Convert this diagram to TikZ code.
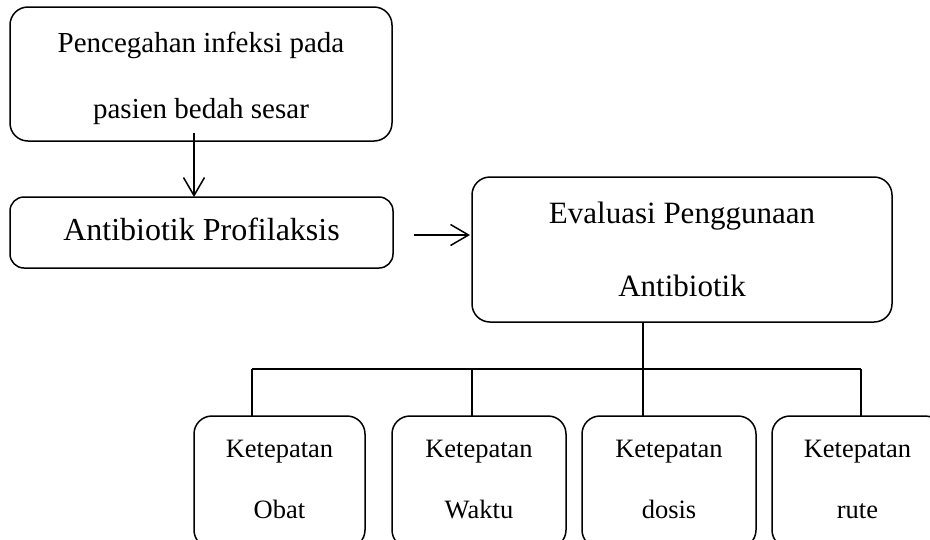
\documentclass[tikz,border=0pt]{standalone}
\usepackage{fontspec}
\setmainfont{Liberation Serif}
\usetikzlibrary{arrows.meta}
\begin{document}
\begin{tikzpicture}[x=1pt,y=-1pt,
  box/.style={draw, line width=1.5pt, rounded corners=18pt, align=center, inner sep=0pt, outer sep=0pt},
  smallbox/.style={box, minimum height=132pt, font=\fontsize{26.5}{61}\selectfont},
  link/.style={line width=1.5pt},
  arr/.style={line width=1.5pt, -{Straight Barb[length=18pt,width=21pt]}}]
\useasboundingbox (0,0) rectangle (930,539);
\clip (0,0) rectangle (930,539);
\node[box, minimum width=382pt, minimum height=134pt, font=\fontsize{29}{66}\selectfont] (a) at (201,74)
  {\rule{0pt}{30pt}Pencegahan infeksi pada\\pasien bedah sesar};
\node[box, rounded corners=14pt, minimum width=383pt, minimum height=71pt, font=\fontsize{32}{38}\selectfont] (b) at (201.5,232.5)
  {Antibiotik Profilaksis\rule[-7pt]{0pt}{7pt}};
\node[box, minimum width=420pt, minimum height=145pt, font=\fontsize{31}{73}\selectfont] (c) at (682,249.5)
  {Evaluasi Penggunaan\\Antibiotik};
\node[smallbox, minimum width=171pt] (s1) at (279.5,482) {Ketepatan\\Obat\vphantom{p}};
\node[smallbox, minimum width=174pt] (s2) at (479,482) {Ketepatan\\Waktu\vphantom{p}};
\node[smallbox, minimum width=174pt] (s3) at (669,482) {Ketepatan\\dosis\vphantom{p}};
\node[smallbox, minimum width=171pt] (s4) at (857.5,482) {Ketepatan\\rute\vphantom{p}};
\draw[arr] ([xshift=-7pt,yshift=8pt]a.south) -- ([xshift=-7.5pt]b.north);
\coordinate (p) at (414,235);
\draw[arr, shorten >=2pt] (p) -- (p -| c.west);
\coordinate (j1) at (252,369);
\coordinate (j2) at (472,369);
\coordinate (j3) at (643,369);
\coordinate (j4) at (861,369);
\draw[link] (j1) -- (j4);
\draw[link] (c.south -| j3) -- (s3.north -| j3);
\draw[link] (j1) -- (s1.north -| j1);
\draw[link] (j2) -- (s2.north -| j2);
\draw[link] (j4) -- (s4.north -| j4);
\end{tikzpicture}
\end{document}
